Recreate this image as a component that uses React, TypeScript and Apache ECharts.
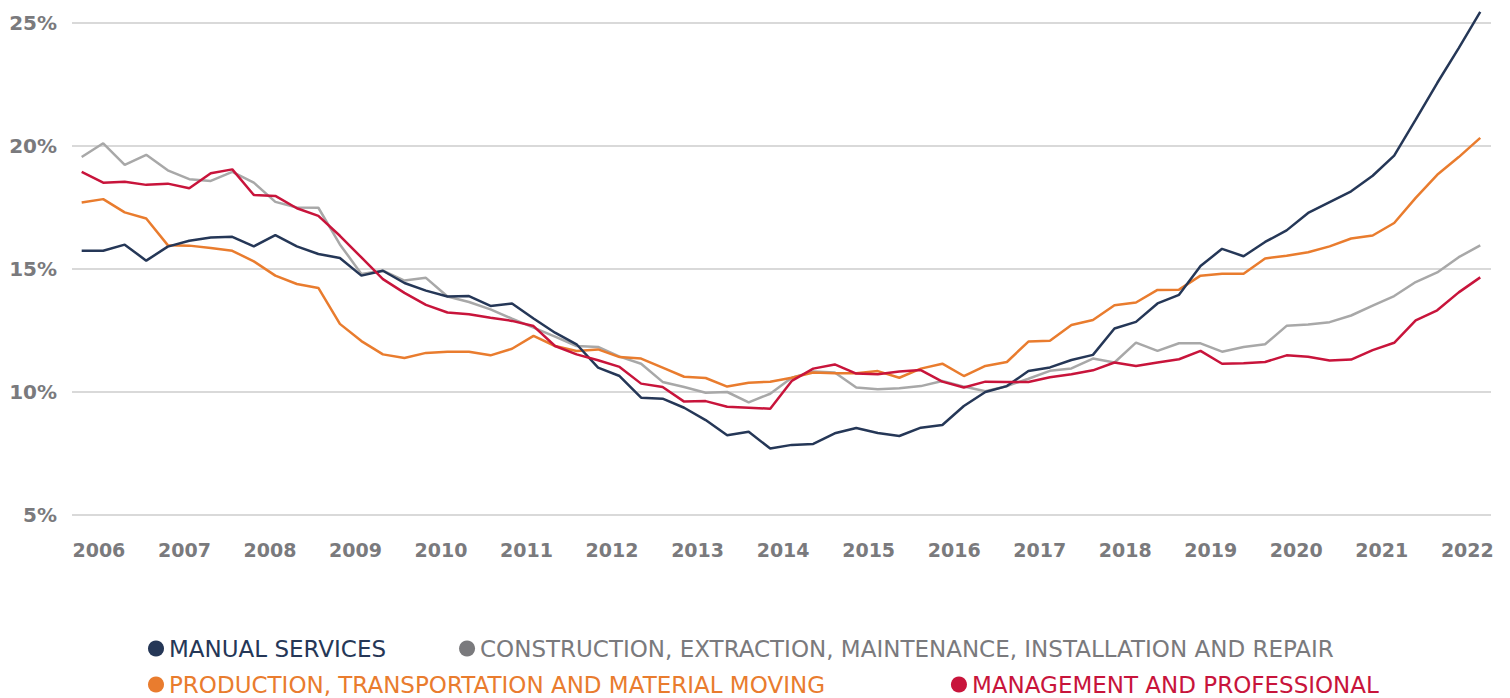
import React, { useEffect, useRef } from "react";
import * as echarts from "echarts";

// Quarterly shares (%), 66 observations
const manualServices = [
  15.74, 15.74, 15.99, 15.34, 15.91, 16.15, 16.28, 16.31, 15.92, 16.38,
  15.92, 15.61, 15.45, 14.73, 14.93, 14.43, 14.12, 13.88, 13.9, 13.5,
  13.6, 12.99, 12.41, 11.94, 10.99, 10.65, 9.77, 9.73, 9.36, 8.86,
  8.24, 8.38, 7.7, 7.85, 7.89, 8.32, 8.54, 8.33, 8.21, 8.55,
  8.66, 9.43, 10.0, 10.24, 10.85, 11.0, 11.3, 11.51, 12.58, 12.85,
  13.6, 13.95, 15.12, 15.82, 15.52, 16.1, 16.57, 17.28, 17.72, 18.16,
  18.79, 19.61, 21.07, 22.56, 23.98, 25.45,
];
const construction = [
  19.55, 20.11, 19.23, 19.64, 19.01, 18.65, 18.58, 18.95, 18.51, 17.73,
  17.5, 17.49, 16.0, 14.8, 14.93, 14.53, 14.64, 13.88, 13.66, 13.36,
  12.98, 12.62, 12.25, 11.87, 11.83, 11.44, 11.15, 10.41, 10.2, 9.97,
  10.0, 9.58, 9.93, 10.58, 10.83, 10.79, 10.18, 10.11, 10.15, 10.24,
  10.45, 10.22, 10.03, 10.24, 10.54, 10.86, 10.96, 11.36, 11.2, 12.01,
  11.67, 11.98, 11.98, 11.64, 11.83, 11.94, 12.69, 12.74, 12.84, 13.11,
  13.51, 13.9, 14.47, 14.86, 15.48, 15.96,
];
const production = [
  17.7, 17.84, 17.3, 17.05, 15.97, 15.95, 15.85, 15.74, 15.31, 14.73,
  14.39, 14.23, 12.77, 12.07, 11.53, 11.38, 11.59, 11.64, 11.64, 11.49,
  11.76, 12.28, 11.87, 11.67, 11.73, 11.42, 11.36, 10.99, 10.62, 10.57,
  10.22, 10.38, 10.42, 10.58, 10.79, 10.76, 10.76, 10.85, 10.58, 10.95,
  11.15, 10.65, 11.06, 11.22, 12.05, 12.08, 12.72, 12.93, 13.53, 13.64,
  14.15, 14.16, 14.73, 14.81, 14.81, 15.43, 15.54, 15.68, 15.92, 16.24,
  16.36, 16.87, 17.89, 18.83, 19.55, 20.33,
];
const management = [
  18.95, 18.51, 18.55, 18.42, 18.47, 18.28, 18.89, 19.05, 18.01, 17.97,
  17.47, 17.16, 16.35, 15.47, 14.59, 14.03, 13.54, 13.23, 13.16, 13.02,
  12.89, 12.68, 11.87, 11.53, 11.29, 11.02, 10.34, 10.2, 9.61, 9.63,
  9.4, 9.36, 9.32, 10.45, 10.95, 11.12, 10.75, 10.72, 10.83, 10.89,
  10.42, 10.18, 10.42, 10.41, 10.41, 10.6, 10.72, 10.88, 11.2, 11.06,
  11.2, 11.33, 11.67, 11.15, 11.17, 11.22, 11.49, 11.43, 11.28, 11.32,
  11.7, 12.0, 12.91, 13.32, 14.05, 14.66,
];
const yearLabels = [
  "2006", "2007", "2008", "2009", "2010", "2011", "2012", "2013", "2014",
  "2015", "2016", "2017", "2018", "2019", "2020", "2021", "2022",
];
const yTicks = [5, 10, 15, 20, 25];

const seriesNames = [
  "MANUAL SERVICES",
  "CONSTRUCTION, EXTRACTION, MAINTENANCE, INSTALLATION AND REPAIR",
  "PRODUCTION, TRANSPORTATION AND MATERIAL MOVING",
  "MANAGEMENT AND PROFESSIONAL",
];

const NAVY = "#253757";
const GRAY_LINE = "#a8a8a8";
const GRAY_TEXT = "#7a7a7d";
const ORANGE = "#e97c2e";
const RED = "#c8143b";

const LABEL_START = 0.8;
const LABEL_STEP = 3.975;

function toPoints(values: number[]) {
  return values.map((v, i) => [i, v]);
}

export default function App() {
  const ref = useRef<HTMLDivElement>(null);
  useEffect(() => {
    if (!ref.current) return;
    const chart = echarts.init(ref.current, null, { renderer: "svg" });
    const font = "DejaVu Sans";
    const legendText = (color: string) => ({
      color,
      fontSize: 23,
      fontFamily: font,
    });
    chart.setOption({
      animation: false,
      backgroundColor: "#ffffff",
      grid: { left: 72, right: 19, top: 23, bottom: 183 },
      xAxis: {
        type: "value",
        min: -0.45,
        max: 65.5,
        axisLine: { show: false },
        axisTick: { show: false },
        splitLine: { show: false },
        axisLabel: {
          customValues: yearLabels.map((_, k) => LABEL_START + LABEL_STEP * k),
          formatter: (v: number) =>
            yearLabels[Math.round((v - LABEL_START) / LABEL_STEP)] ?? "",
          color: GRAY_TEXT,
          fontSize: 19,
          fontWeight: "bold",
          fontFamily: font,
          margin: 25,
        },
      },
      yAxis: {
        type: "value",
        min: 5,
        max: 25,
        interval: 5,
        axisLine: { show: false },
        axisTick: { show: false },
        splitLine: { lineStyle: { color: "#d9d9d9", width: 2 } },
        axisLabel: {
          customValues: yTicks,
          formatter: "{value}%",
          color: GRAY_TEXT,
          fontSize: 20,
          fontWeight: "bold",
          fontFamily: font,
          margin: 15,
        },
      },
      legend: [
        {
          left: 143,
          top: 632,
          icon: "circle",
          itemWidth: 16,
          itemHeight: 16,
          itemGap: 73,
          selectedMode: false,
          data: [
            { name: seriesNames[0], itemStyle: { color: NAVY }, textStyle: legendText(NAVY) },
            { name: seriesNames[1], itemStyle: { color: GRAY_TEXT }, textStyle: legendText(GRAY_TEXT) },
          ],
        },
        {
          left: 143,
          top: 668,
          icon: "circle",
          itemWidth: 16,
          itemHeight: 16,
          itemGap: 126,
          selectedMode: false,
          data: [
            { name: seriesNames[2], itemStyle: { color: ORANGE }, textStyle: legendText(ORANGE) },
            { name: seriesNames[3], itemStyle: { color: RED }, textStyle: legendText(RED) },
          ],
        },
      ],
      series: [
        { name: seriesNames[1], data: toPoints(construction), color: GRAY_LINE },
        { name: seriesNames[2], data: toPoints(production), color: ORANGE },
        { name: seriesNames[0], data: toPoints(manualServices), color: NAVY },
        { name: seriesNames[3], data: toPoints(management), color: RED },
      ].map((s) => ({
        type: "line",
        name: s.name,
        data: s.data,
        showSymbol: false,
        symbol: "none",
        clip: false,
        itemStyle: { color: s.color },
        lineStyle: { color: s.color, width: 2.5 },
      })),
    });
    return () => chart.dispose();
  }, []);
  return (
    <div
      ref={ref}
      style={{ position: "absolute", left: 0, top: 0, width: 1510, height: 698 }}
    />
  );
}
